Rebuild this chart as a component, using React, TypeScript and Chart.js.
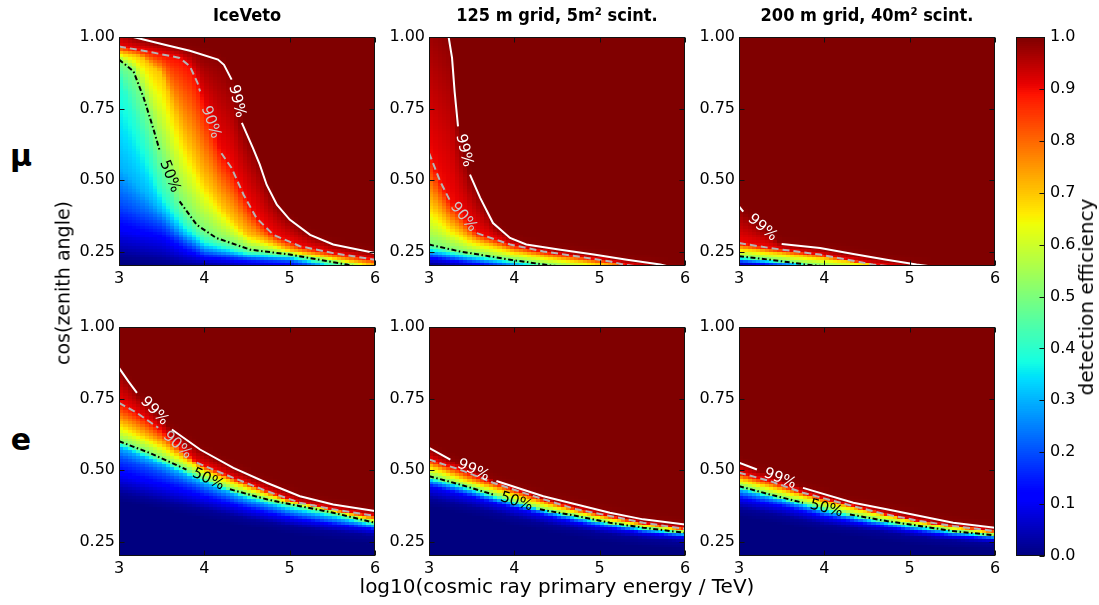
import React, { useEffect, useRef } from 'react';
import { Chart, registerables } from 'chart.js';

Chart.register(...registerables);

// ---------------- text / ticks ----------------
const COLUMN_TITLES = ['IceVeto', '125 m grid, 5m² scint.', '200 m grid, 40m² scint.'];
const ROW_LABELS = ['μ', 'e'];
const X_LABEL = 'log10(cosmic ray primary energy / TeV)';
const Y_LABEL = 'cos(zenith angle)';
const CBAR_LABEL = 'detection efficiency';
const ENERGY_TICKS = [3, 4, 5, 6];
const COS_TICKS = [0.25, 0.5, 0.75, 1.0];
const CBAR_TICKS = [0, 0.1, 0.2, 0.3, 0.4, 0.5, 0.6, 0.7, 0.8, 0.9, 1.0];
const E_RANGE = [3, 6];
const COS_RANGE = [0.2, 1.0];

// contour lines drawn on every panel
const CONTOUR_LEVELS = [0.5, 0.9, 0.99];
const CONTOUR_TEXT = ['50%', '90%', '99%'];

// ---------------- data: iso-efficiency curves [log10 E, cos zenith] ----------------
// μ, IceVeto
const MU_ICE_LEVELS = [0.02, 0.1, 0.2, 0.3, 0.4, 0.5, 0.7, 0.9, 0.99];
const MU_ICE_CURVES = [
  [[3, 0.24], [3.25, 0.23], [3.5, 0.22], [3.75, 0.205], [4, 0.2], [4.5, 0.19], [5, 0.18], [6, 0.13]],
  [[3, 0.32], [3.25, 0.305], [3.5, 0.29], [3.75, 0.25], [4, 0.225], [4.5, 0.21], [5, 0.2], [6, 0.15]],
  [[3, 0.42], [3.25, 0.38], [3.5, 0.345], [3.75, 0.285], [4, 0.245], [4.5, 0.225], [5, 0.215], [6, 0.16]],
  [[3, 0.55], [3.25, 0.47], [3.5, 0.39], [3.75, 0.315], [4, 0.265], [4.5, 0.235], [5, 0.225], [6, 0.165]],
  [[3, 0.86], [3.25, 0.66], [3.5, 0.45], [3.75, 0.35], [4, 0.285], [4.5, 0.245], [5, 0.232], [6, 0.17]],
  [[3, 0.921], [3.17, 0.88], [3.29, 0.787], [3.4, 0.682], [3.48, 0.6], [3.71, 0.426], [3.91, 0.344], [4.14, 0.298], [4.54, 0.257], [5, 0.24], [5.67, 0.205], [6, 0.18]],
  [[3, 0.945], [3.25, 0.93], [3.5, 0.87], [3.75, 0.66], [4, 0.5], [4.25, 0.39], [4.5, 0.31], [5, 0.255], [6, 0.2]],
  [[3, 0.967], [3.36, 0.948], [3.71, 0.927], [3.83, 0.898], [3.92, 0.84], [3.95, 0.81], [4.2, 0.594], [4.32, 0.542], [4.46, 0.449], [4.61, 0.368], [4.81, 0.309], [5.12, 0.269], [5.51, 0.245], [6, 0.222]],
  [[3, 1.03], [3.17, 1.0], [3.56, 0.971], [3.83, 0.952], [4.16, 0.921], [4.23, 0.903], [4.32, 0.851], [4.44, 0.7], [4.57, 0.612], [4.65, 0.554], [4.73, 0.484], [4.85, 0.414], [5, 0.362], [5.24, 0.309], [5.51, 0.275], [6, 0.245]],
];
const MU_ICE_GAPS = [[0.5, 4], [0.9, 5], [0.99, 6]];

// μ, 125 m grid
const MU_125_LEVELS = [0.02, 0.1, 0.3, 0.5, 0.7, 0.9, 0.99];
const MU_125_CURVES = [
  [[3, 0.205], [4, 0.18], [6, 0.1]],
  [[3, 0.225], [3.5, 0.205], [4, 0.19], [6, 0.12]],
  [[3, 0.25], [3.5, 0.225], [4, 0.205], [6, 0.13]],
  [[3, 0.275], [3.36, 0.251], [3.95, 0.222], [4.42, 0.202], [6, 0.15]],
  [[3, 0.42], [3.25, 0.34], [3.5, 0.29], [4, 0.25], [4.5, 0.225], [5, 0.205], [5.5, 0.19], [6, 0.16]],
  [[3, 0.595], [3.13, 0.496], [3.25, 0.426], [3.56, 0.315], [3.95, 0.275], [4.34, 0.251], [4.73, 0.234], [5.12, 0.216], [5.28, 0.205], [6, 0.175]],
  [[3, 1.1], [3.23, 1.0], [3.27, 0.927], [3.3, 0.81], [3.34, 0.688], [3.48, 0.519], [3.6, 0.438], [3.75, 0.35], [3.95, 0.298], [4.14, 0.275], [4.54, 0.257], [4.93, 0.24], [5.32, 0.222], [5.71, 0.205], [6, 0.185]],
];
const MU_125_GAPS = [[0.9, 2], [0.99, 4]];

// μ, 200 m grid
const MU_200_LEVELS = [0.02, 0.1, 0.3, 0.5, 0.7, 0.9, 0.99];
const MU_200_CURVES = [
  [[3, 0.2], [4, 0.175], [6, 0.1]],
  [[3, 0.21], [4, 0.185], [6, 0.12]],
  [[3, 0.222], [4, 0.195], [6, 0.13]],
  [[3, 0.234], [3.36, 0.222], [3.79, 0.205], [6, 0.14]],
  [[3, 0.262], [4, 0.225], [5, 0.19], [6, 0.15]],
  [[3, 0.28], [3.36, 0.263], [3.95, 0.24], [4.57, 0.205], [6, 0.16]],
  [[3, 0.408], [3.05, 0.39], [3.5, 0.277], [3.95, 0.263], [4.34, 0.242], [4.73, 0.222], [5.08, 0.205], [6, 0.17]],
];
const MU_200_GAPS = [[0.99, 1]];

// e, IceVeto
const E_ICE_LEVELS = [0.02, 0.1, 0.2, 0.3, 0.5, 0.7, 0.9, 0.99];
const E_ICE_CURVES = [
  [[3, 0.42], [3.5, 0.39], [4, 0.36], [4.5, 0.33], [5, 0.305], [5.5, 0.285], [6, 0.27]],
  [[3, 0.48], [3.5, 0.44], [4, 0.4], [4.5, 0.36], [5, 0.33], [5.5, 0.31], [6, 0.29]],
  [[3, 0.545], [3.5, 0.49], [4, 0.43], [4.5, 0.38], [5, 0.345], [5.5, 0.32], [6, 0.297]],
  [[3, 0.58], [3.5, 0.52], [4, 0.455], [4.5, 0.4], [5, 0.36], [5.5, 0.335], [6, 0.305]],
  [[3, 0.601], [3.36, 0.56], [3.79, 0.502], [4.3, 0.433], [4.73, 0.398], [5.12, 0.374], [5.51, 0.351], [6, 0.316]],
  [[3, 0.665], [3.5, 0.59], [4, 0.5], [4.5, 0.44], [5, 0.39], [5.5, 0.358], [6, 0.328]],
  [[3, 0.735], [3.21, 0.7], [3.46, 0.648], [3.91, 0.526], [4.34, 0.473], [4.73, 0.427], [5.12, 0.386], [5.51, 0.363], [6, 0.34]],
  [[3, 0.857], [3.11, 0.81], [3.21, 0.77], [3.62, 0.642], [3.95, 0.572], [4.34, 0.508], [4.73, 0.456], [5.12, 0.409], [5.51, 0.38], [6, 0.357]],
];
const E_ICE_GAPS = [[0.5, 2], [0.9, 2], [0.99, 2]];

// e, 125 m grid
const E_125_LEVELS = [0.02, 0.1, 0.3, 0.5, 0.7, 0.9, 0.99];
const E_125_CURVES = [
  [[3, 0.4], [3.5, 0.37], [4, 0.335], [4.5, 0.305], [5, 0.28], [5.5, 0.262], [6, 0.25]],
  [[3, 0.44], [3.5, 0.405], [4, 0.365], [4.5, 0.33], [5, 0.3], [5.5, 0.28], [6, 0.265]],
  [[3, 0.465], [3.5, 0.425], [4, 0.38], [4.5, 0.345], [5, 0.315], [5.5, 0.29], [6, 0.275]],
  [[3, 0.479], [3.36, 0.45], [3.75, 0.415], [4.3, 0.363], [4.73, 0.34], [5.12, 0.316], [5.51, 0.299], [6, 0.281]],
  [[3, 0.515], [3.5, 0.46], [4, 0.415], [4.5, 0.37], [5, 0.337], [5.5, 0.31], [6, 0.289]],
  [[3, 0.537], [3.36, 0.502], [3.75, 0.456], [4.34, 0.398], [4.73, 0.363], [5.12, 0.34], [5.51, 0.316], [6, 0.295]],
  [[3, 0.578], [3.25, 0.537], [3.79, 0.462], [4.34, 0.409], [4.73, 0.38], [5.12, 0.351], [5.51, 0.328], [6, 0.31]],
];
const E_125_GAPS = [[0.5, 2], [0.99, 1]];

// e, 200 m grid
const E_200_LEVELS = [0.02, 0.1, 0.3, 0.5, 0.7, 0.9, 0.99];
const E_200_CURVES = [
  [[3, 0.365], [3.5, 0.34], [4, 0.31], [4.5, 0.29], [5, 0.27], [5.5, 0.255], [6, 0.245]],
  [[3, 0.4], [3.5, 0.37], [4, 0.335], [4.5, 0.31], [5, 0.287], [5.5, 0.268], [6, 0.258]],
  [[3, 0.43], [3.5, 0.395], [4, 0.355], [4.5, 0.325], [5, 0.3], [5.5, 0.28], [6, 0.266]],
  [[3, 0.444], [3.36, 0.415], [3.75, 0.386], [4.3, 0.345], [4.73, 0.322], [5.12, 0.305], [5.51, 0.287], [6, 0.272]],
  [[3, 0.47], [3.5, 0.43], [4, 0.39], [4.5, 0.355], [5, 0.325], [5.5, 0.3], [6, 0.28]],
  [[3, 0.491], [3.36, 0.462], [3.75, 0.421], [4.34, 0.374], [4.73, 0.345], [5.12, 0.322], [5.51, 0.305], [6, 0.287]],
  [[3, 0.526], [3.21, 0.502], [3.75, 0.438], [4.34, 0.386], [4.73, 0.363], [5.12, 0.34], [5.51, 0.316], [6, 0.299]],
];
const E_200_GAPS = [[0.5, 2], [0.99, 1]];

// ---------------- layout & style (not data) ----------------
const FONT = "'DejaVu Sans', 'Liberation Sans', sans-serif";
const TITLE_FONT = "'DejaVu Sans Condensed', 'DejaVu Sans', sans-serif";
const PLOT_W = 256;
const PLOT_H = 229;
const AXIS_W = 60;
const AXIS_H = 30;
const PAD_T = 18;
const PAD_R = 14;
const COL_LEFTS = [119, 429, 739];
const ROW_TOPS = [37, 327];
const CELL_E = 0.05;
const CELL_C = 0.01;
const CBAR_LEFT = 1016;
const CBAR_W = 29;
const CBAR_AXIS_W = 54;
const CBAR_PAD = 18;
const CONTOUR_STYLES = [
  { color: '#000000', width: 2, dash: [5, 2.5, 1.5, 2.5], label: '#000000' },
  { color: '#b4b4b4', width: 2, dash: [7, 4], label: '#c8c8c8' },
  { color: '#ffffff', width: 2, dash: [] as number[], label: '#ffffff' },
];

type Panel = { levels: number[]; curves: number[][][]; gaps: number[][] };
const PANELS: Panel[] = [
  { levels: MU_ICE_LEVELS, curves: MU_ICE_CURVES, gaps: MU_ICE_GAPS },
  { levels: MU_125_LEVELS, curves: MU_125_CURVES, gaps: MU_125_GAPS },
  { levels: MU_200_LEVELS, curves: MU_200_CURVES, gaps: MU_200_GAPS },
  { levels: E_ICE_LEVELS, curves: E_ICE_CURVES, gaps: E_ICE_GAPS },
  { levels: E_125_LEVELS, curves: E_125_CURVES, gaps: E_125_GAPS },
  { levels: E_200_LEVELS, curves: E_200_CURVES, gaps: E_200_GAPS },
];

// ---------------- helpers ----------------
function lerpTable(v: number, t: number[][]): number {
  if (v <= t[0][0]) return t[0][1];
  for (let i = 0; i < t.length - 1; i++) {
    const [x0, y0] = t[i];
    const [x1, y1] = t[i + 1];
    if (v <= x1) return y0 + ((v - x0) * (y1 - y0)) / (x1 - x0);
  }
  return t[t.length - 1][1];
}

// matplotlib "jet" segment data
const JET_R = [[0, 0], [0.35, 0], [0.66, 1], [0.89, 1], [1, 0.5]];
const JET_G = [[0, 0], [0.125, 0], [0.375, 1], [0.64, 1], [0.91, 0], [1, 0]];
const JET_B = [[0, 0.5], [0.11, 1], [0.34, 1], [0.65, 0], [1, 0]];
function jet(v: number): string {
  const x = Math.max(0, Math.min(1, v));
  const r = Math.round(255 * lerpTable(x, JET_R));
  const g = Math.round(255 * lerpTable(x, JET_G));
  const b = Math.round(255 * lerpTable(x, JET_B));
  return `rgb(${r},${g},${b})`;
}

function curveAt(curve: number[][], e: number): number {
  let i = 0;
  while (i < curve.length - 2 && e > curve[i + 1][0]) i++;
  const [x0, y0] = curve[i];
  const [x1, y1] = curve[i + 1];
  return y0 + ((e - x0) * (y1 - y0)) / (x1 - x0);
}

function efficiency(p: Panel, e: number, c: number): number {
  const cs = p.curves.map((cv) => curveAt(cv, e));
  const L = p.levels;
  if (c <= cs[0]) return Math.max(0, L[0] * (1 - (cs[0] - c) / 0.03));
  for (let i = 0; i < cs.length - 1; i++) {
    if (c <= cs[i + 1]) {
      const t = (c - cs[i]) / (cs[i + 1] - cs[i]);
      return L[i] + t * (L[i + 1] - L[i]);
    }
  }
  const top = L[L.length - 1];
  return Math.min(1, top + ((1 - top) * (c - cs[cs.length - 1])) / 0.03);
}

function drawFrame(chart: any, sides: { x: boolean; y: boolean; yLeft: boolean }) {
  const { ctx, chartArea: a, scales } = chart;
  ctx.save();
  ctx.strokeStyle = '#111';
  ctx.lineWidth = 1;
  const l = Math.round(a.left) + 0.5;
  const r = Math.round(a.right) - 0.5;
  const t = Math.round(a.top) + 0.5;
  const b = Math.round(a.bottom) - 0.5;
  ctx.strokeRect(l, t, r - l, b - t);
  const TL = 5;
  ctx.beginPath();
  if (sides.x) {
    for (const tk of scales.x.ticks) {
      const px = Math.round(scales.x.getPixelForValue(tk.value)) + 0.5;
      ctx.moveTo(px, b); ctx.lineTo(px, b - TL);
      ctx.moveTo(px, t); ctx.lineTo(px, t + TL);
    }
  }
  if (sides.y) {
    for (const tk of scales.y.ticks) {
      const py = Math.round(scales.y.getPixelForValue(tk.value)) + 0.5;
      if (sides.yLeft) { ctx.moveTo(l, py); ctx.lineTo(l + TL, py); }
      ctx.moveTo(r, py); ctx.lineTo(r - TL, py);
    }
  }
  ctx.stroke();
  ctx.restore();
}

function makePanel(canvas: HTMLCanvasElement, p: Panel): Chart {
  const datasets = CONTOUR_LEVELS.map((lev, k) => {
    const curve = p.curves[p.levels.indexOf(lev)];
    const gap = p.gaps.find((g) => g[0] === lev);
    const gapIdx = gap ? gap[1] : -1;
    const st = CONTOUR_STYLES[k];
    return {
      data: curve.map(([x, y]) => ({ x, y })),
      borderColor: st.color,
      borderWidth: st.width,
      borderDash: st.dash,
      pointRadius: 0,
      pointHoverRadius: 0,
      tension: 0,
      fill: false,
      clip: 0,
      segment: {
        borderColor: (ctx: any) => (ctx.p0DataIndex === gapIdx ? 'rgba(0,0,0,0)' : undefined),
      },
      gapIndex: gapIdx,
      labelText: CONTOUR_TEXT[k],
      labelColor: st.label,
    } as any;
  });

  const heatmap = {
    id: 'heatmap',
    beforeDatasetsDraw(chart: any) {
      const { ctx, chartArea: a, scales } = chart;
      const xs = scales.x;
      const ys = scales.y;
      ctx.save();
      ctx.beginPath();
      ctx.rect(a.left, a.top, a.right - a.left, a.bottom - a.top);
      ctx.clip();
      const nE = Math.round((E_RANGE[1] - E_RANGE[0]) / CELL_E);
      const nC = Math.round((COS_RANGE[1] - COS_RANGE[0]) / CELL_C);
      for (let i = 0; i < nE; i++) {
        const e0 = E_RANGE[0] + i * CELL_E;
        const e1 = e0 + CELL_E;
        const x0 = Math.round(xs.getPixelForValue(e0));
        const x1 = Math.round(xs.getPixelForValue(e1));
        for (let j = 0; j < nC; j++) {
          const c0 = COS_RANGE[0] + j * CELL_C;
          const c1 = c0 + CELL_C;
          const y0 = Math.round(ys.getPixelForValue(c0));
          const y1 = Math.round(ys.getPixelForValue(c1));
          ctx.fillStyle = jet(efficiency(p, (e0 + e1) / 2, (c0 + c1) / 2));
          ctx.fillRect(x0, y1, x1 - x0, y0 - y1);
        }
      }
      ctx.restore();
    },
    afterDatasetsDraw(chart: any) {
      const { ctx } = chart;
      chart.data.datasets.forEach((ds: any, i: number) => {
        if (ds.gapIndex < 0) return;
        const meta = chart.getDatasetMeta(i);
        const p0 = meta.data[ds.gapIndex];
        const p1 = meta.data[ds.gapIndex + 1];
        if (!p0 || !p1) return;
        let ang = Math.atan2(p1.y - p0.y, p1.x - p0.x);
        if (ang > Math.PI / 2) ang -= Math.PI;
        if (ang < -Math.PI / 2) ang += Math.PI;
        ctx.save();
        ctx.translate((p0.x + p1.x) / 2, (p0.y + p1.y) / 2);
        ctx.rotate(ang);
        ctx.font = `15px ${FONT}`;
        ctx.fillStyle = ds.labelColor;
        ctx.textAlign = 'center';
        ctx.textBaseline = 'middle';
        ctx.fillText(ds.labelText, 0, 0);
        ctx.restore();
      });
    },
    afterDraw(chart: any) {
      drawFrame(chart, { x: true, y: true, yLeft: true });
    },
  };

  const tickFont = { family: FONT, size: 16 };
  return new Chart(canvas, {
    type: 'line',
    data: { datasets },
    options: {
      animation: false,
      responsive: false,
      events: [],
      layout: { padding: { top: PAD_T, right: PAD_R, left: 0, bottom: 0 } },
      scales: {
        x: {
          type: 'linear',
          min: E_RANGE[0],
          max: E_RANGE[1],
          afterBuildTicks: (s: any) => { s.ticks = ENERGY_TICKS.map((v) => ({ value: v })); },
          afterFit: (s: any) => { s.height = AXIS_H; },
          grid: { display: false, drawTicks: false },
          border: { display: false },
          ticks: { font: tickFont, color: '#000', padding: 3, maxRotation: 0, autoSkip: false, callback: (v: any) => String(v) },
        },
        y: {
          type: 'linear',
          min: COS_RANGE[0],
          max: COS_RANGE[1],
          afterBuildTicks: (s: any) => { s.ticks = COS_TICKS.map((v) => ({ value: v })); },
          afterFit: (s: any) => { s.width = AXIS_W; },
          grid: { display: false, drawTicks: false },
          border: { display: false },
          ticks: { font: tickFont, color: '#000', padding: 4, autoSkip: false, callback: (v: any) => Number(v).toFixed(2) },
        },
      },
      plugins: { legend: { display: false }, tooltip: { enabled: false } },
    } as any,
    plugins: [heatmap],
  });
}

function makeColorbar(canvas: HTMLCanvasElement): Chart {
  const bar = {
    id: 'cbar',
    beforeDatasetsDraw(chart: any) {
      const { ctx, chartArea: a, scales } = chart;
      const N = 256;
      for (let k = 0; k < N; k++) {
        const v0 = k / N;
        const v1 = (k + 1) / N;
        const y0 = scales.y.getPixelForValue(v0);
        const y1 = scales.y.getPixelForValue(v1);
        ctx.fillStyle = jet((v0 + v1) / 2);
        ctx.fillRect(a.left, Math.floor(y1), a.right - a.left, Math.ceil(y0) - Math.floor(y1));
      }
    },
    afterDraw(chart: any) {
      drawFrame(chart, { x: false, y: true, yLeft: false });
    },
  };
  return new Chart(canvas, {
    type: 'line',
    data: { datasets: [] },
    options: {
      animation: false,
      responsive: false,
      events: [],
      layout: { padding: { top: CBAR_PAD, bottom: CBAR_PAD, left: 0, right: 0 } },
      scales: {
        x: { type: 'linear', display: false, min: 0, max: 1 },
        y: {
          type: 'linear',
          position: 'right',
          min: 0,
          max: 1,
          afterBuildTicks: (s: any) => { s.ticks = CBAR_TICKS.map((v) => ({ value: v })); },
          afterFit: (s: any) => { s.width = CBAR_AXIS_W; },
          grid: { display: false, drawTicks: false },
          border: { display: false },
          ticks: { font: { family: FONT, size: 16 }, color: '#000', padding: 5, autoSkip: false, callback: (v: any) => Number(v).toFixed(1) },
        },
      },
      plugins: { legend: { display: false }, tooltip: { enabled: false } },
    } as any,
    plugins: [bar],
  });
}

function Txt(props: { x: number; y: number; text: string; size: number; bold?: boolean; rotate?: number; family?: string; stretch?: string }) {
  const { x, y, text, size, bold, rotate, family, stretch } = props;
  return (
    <div
      style={{
        position: 'absolute',
        left: x,
        top: y,
        transform: `translate(-50%, -50%)${rotate ? ` rotate(${rotate}deg)` : ''}`,
        fontSize: size,
        fontWeight: bold ? 'bold' : 'normal',
        fontStretch: stretch || 'normal',
        whiteSpace: 'nowrap',
        lineHeight: 1,
        fontFamily: family || FONT,
        color: '#000',
      }}
    >
      {text}
    </div>
  );
}

export default function App() {
  const panelRefs = useRef<(HTMLCanvasElement | null)[]>([]);
  const cbarRef = useRef<HTMLCanvasElement | null>(null);

  useEffect(() => {
    const charts: Chart[] = [];
    PANELS.forEach((p, i) => {
      const cv = panelRefs.current[i];
      if (cv) charts.push(makePanel(cv, p));
    });
    if (cbarRef.current) charts.push(makeColorbar(cbarRef.current));
    return () => charts.forEach((c) => c.destroy());
  }, []);

  const cw = AXIS_W + PLOT_W + PAD_R;
  const ch = PAD_T + PLOT_H + AXIS_H;
  const cbarTop = ROW_TOPS[0] - CBAR_PAD;
  const cbarH = ROW_TOPS[1] + PLOT_H - ROW_TOPS[0] + 2 * CBAR_PAD;

  return (
    <div style={{ position: 'absolute', left: 0, top: 0, width: 1099, height: 605, background: '#fff', overflow: 'hidden' }}>
      {PANELS.map((_, i) => {
        const row = Math.floor(i / 3);
        const col = i % 3;
        return (
          <canvas
            key={i}
            ref={(el) => { panelRefs.current[i] = el; }}
            width={cw}
            height={ch}
            style={{ position: 'absolute', left: COL_LEFTS[col] - AXIS_W, top: ROW_TOPS[row] - PAD_T, width: cw, height: ch }}
          />
        );
      })}
      <canvas
        ref={cbarRef}
        width={CBAR_W + CBAR_AXIS_W}
        height={cbarH}
        style={{ position: 'absolute', left: CBAR_LEFT, top: cbarTop, width: CBAR_W + CBAR_AXIS_W, height: cbarH }}
      />
      {COLUMN_TITLES.map((t, i) => (
        <Txt key={t} x={COL_LEFTS[i] + PLOT_W / 2} y={15} text={t} size={18} bold family={TITLE_FONT} stretch="condensed" />
      ))}
      <Txt x={21} y={156} text={ROW_LABELS[0]} size={30} bold />
      <Txt x={21} y={440} text={ROW_LABELS[1]} size={30} bold />
      <Txt x={63} y={283} text={Y_LABEL} size={19} rotate={-90} />
      <Txt x={557} y={586} text={X_LABEL} size={20} />
      <Txt x={1086} y={297} text={CBAR_LABEL} size={20} rotate={-90} />
    </div>
  );
}
